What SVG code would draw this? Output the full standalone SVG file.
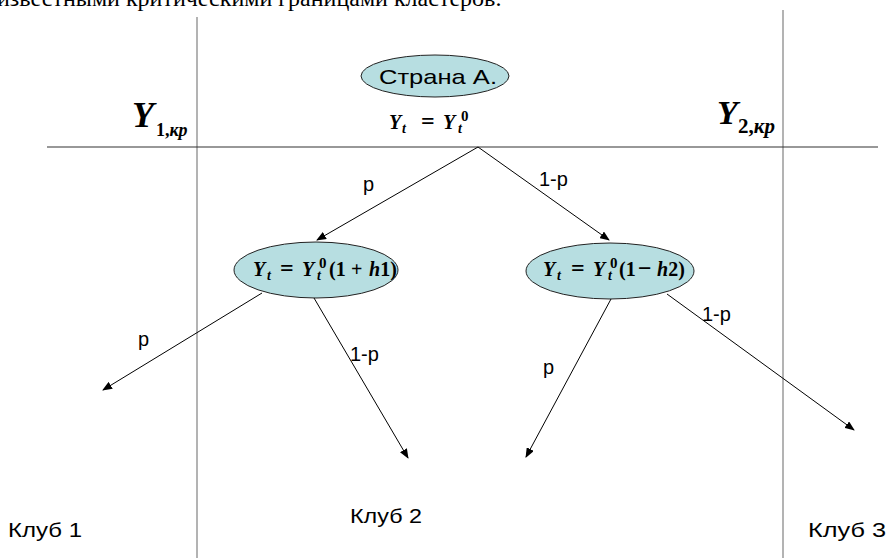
<svg xmlns="http://www.w3.org/2000/svg" width="892" height="558" viewBox="0 0 892 558">
  <defs>
    <marker id="arrowhead" markerWidth="10" markerHeight="8" refX="9" refY="4" orient="auto" markerUnits="userSpaceOnUse">
      <path d="M0,0 L10,4 L0,8 Z" fill="#000"/>
    </marker>
    <style>
      .serif { font-family: "Liberation Serif", "Times New Roman", serif; }
      .sans { font-family: "Liberation Sans", Arial, sans-serif; fill: #000; }
      .math { font-family: "Liberation Serif", "Times New Roman", serif; font-weight: bold; font-size: 20px; fill: #000; }
      .it { font-style: italic; }
      .sub { font-style: italic; font-size: 14px; }
      .sup { font-size: 15px; }
      .op { font-size: 24px; }
      .node { fill: #b7dee1; stroke: #222; stroke-width: 1; }
      .grid-v { stroke: #808080; stroke-width: 1.2; }
      .grid-h { stroke: #333; stroke-width: 1.2; }
      .edge { stroke: #000; stroke-width: 1; fill: none; marker-end: url(#arrowhead); }
      .prob { font-family: "Liberation Sans", Arial, sans-serif; font-size: 20px; fill: #000; }
      .club { font-family: "Liberation Sans", Arial, sans-serif; font-size: 20px; fill: #000; }
    </style>
  </defs>

  <rect width="892" height="558" fill="#fff"/>

  <!-- running text line, cut at the top edge -->
  <text class="serif" x="-3" y="6" font-size="24" fill="#000">известными критическими границами кластеров.</text>

  <!-- cluster boundaries -->
  <g id="boundaries">
    <line class="grid-v" x1="197" y1="17" x2="197" y2="558"/>
    <line class="grid-v" x1="783" y1="10" x2="783" y2="558"/>
    <line class="grid-h" x1="47" y1="147" x2="878" y2="147"/>
  </g>

  <!-- critical levels -->
  <g id="y1-kr">
    <text class="math"><tspan class="it" font-size="36" x="132" y="127">Y</tspan><tspan font-size="18" x="156" y="136">1,</tspan><tspan class="it" font-size="18">кр</tspan></text>
  </g>
  <g id="y2-kr">
    <text class="math"><tspan class="it" font-size="34" x="717" y="124">Y</tspan><tspan font-size="21" x="738" y="133">2,</tspan><tspan class="it" font-size="21">кр</tspan></text>
  </g>

  <!-- root node -->
  <g id="root">
    <ellipse class="node" cx="435" cy="76" rx="74" ry="21"/>
    <text class="sans" x="379" y="84" font-size="21" textLength="118" lengthAdjust="spacingAndGlyphs">Страна А.</text>
    <text class="math"><tspan class="it" x="389" y="129">Y</tspan><tspan class="sub" x="402" y="133">t</tspan><tspan class="op" x="421" y="129">=</tspan><tspan class="it" x="443" y="129">Y</tspan><tspan class="sub" x="458" y="133">t</tspan><tspan class="sup" x="461" y="121">0</tspan></text>
  </g>

  <!-- second level nodes -->
  <g id="up">
    <ellipse class="node" cx="316" cy="270" rx="82" ry="28"/>
    <text class="math"><tspan class="it" x="253" y="276">Y</tspan><tspan class="sub" x="267" y="280">t</tspan><tspan class="op" x="280" y="276">=</tspan><tspan class="it" x="302" y="276">Y</tspan><tspan class="sub" x="317" y="280">t</tspan><tspan class="sup" x="319" y="268">0</tspan><tspan x="329" y="276">(1</tspan><tspan x="351" y="276">+</tspan><tspan class="it" x="369" y="276">h</tspan><tspan>1)</tspan></text>
  </g>
  <g id="down">
    <ellipse class="node" cx="610" cy="271" rx="84" ry="28"/>
    <text class="math"><tspan class="it" x="543" y="276">Y</tspan><tspan class="sub" x="557" y="280">t</tspan><tspan class="op" x="571" y="276">=</tspan><tspan class="it" x="593" y="276">Y</tspan><tspan class="sub" x="608" y="280">t</tspan><tspan class="sup" x="610" y="268">0</tspan><tspan x="619" y="276">(1</tspan><tspan class="op" x="638" y="276">−</tspan><tspan class="it" x="657" y="276">h</tspan><tspan>2)</tspan></text>
  </g>

  <!-- transitions -->
  <g id="connectors">
    <line class="edge" x1="478" y1="147" x2="317" y2="240"/>
    <line class="edge" x1="478" y1="147" x2="609" y2="240"/>
    <line class="edge" x1="262" y1="293" x2="103" y2="390"/>
    <line class="edge" x1="314" y1="298" x2="408" y2="458"/>
    <line class="edge" x1="611" y1="299" x2="526" y2="457"/>
    <line class="edge" x1="667" y1="294" x2="854" y2="430"/>
  </g>

  <!-- probabilities -->
  <g id="labels">
    <text class="prob" x="363" y="191">p</text>
    <text class="prob" x="539" y="186">1-p</text>
    <text class="prob" x="138" y="346">p</text>
    <text class="prob" x="350" y="361">1-p</text>
    <text class="prob" x="543" y="374">p</text>
    <text class="prob" x="702" y="321">1-p</text>
  </g>

  <!-- clubs -->
  <g id="clubs">
    <text class="club" x="8" y="537" textLength="74" lengthAdjust="spacingAndGlyphs">Клуб 1</text>
    <text class="club" x="350" y="523" textLength="72" lengthAdjust="spacingAndGlyphs">Клуб 2</text>
    <text class="club" x="808" y="537" textLength="78" lengthAdjust="spacingAndGlyphs">Клуб 3</text>
  </g>
</svg>
